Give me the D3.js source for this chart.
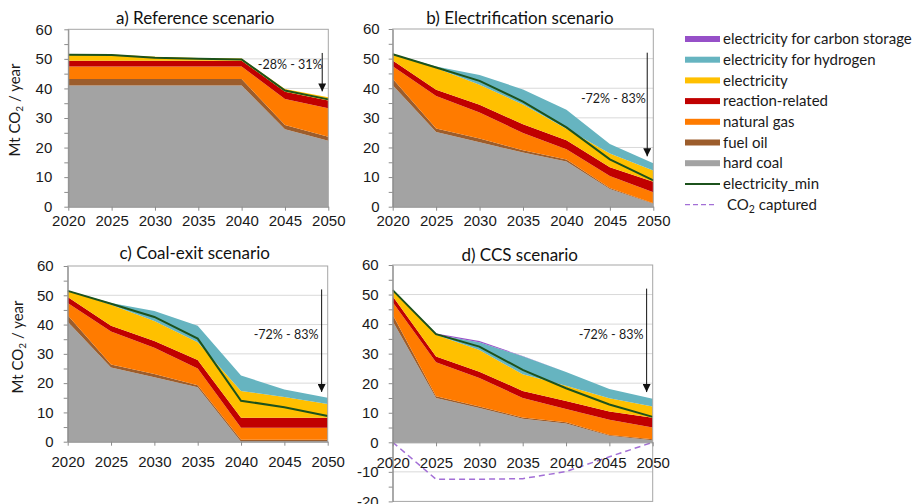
<!DOCTYPE html>
<html>
<head>
<meta charset="utf-8">
<script src="https://cdn.jsdelivr.net/npm/d3@7"></script>
<style>
  html, body { margin: 0; padding: 0; background: #fff; }
  svg { display: block; font-family: Lato, "Noto Sans", "Liberation Sans", sans-serif; }
</style>
</head>
<body>
<svg id="chart" width="912" height="504"></svg>
<script>
// ---- data: Mt CO2 per year ----
const years = [2020, 2025, 2030, 2035, 2040, 2045, 2050];

// a) Reference scenario
const refHardCoal    = [41.0, 41.0, 41.0, 41.0, 41.0, 26.2, 22.3];
const refFuelOil     = [2.2, 2.2, 2.2, 2.2, 2.2, 1.4, 1.4];
const refNaturalGas  = [4.2, 4.2, 4.2, 4.2, 4.2, 8.8, 9.6];
const refReaction    = [2.0, 2.0, 2.0, 2.0, 2.0, 2.5, 2.6];
const refElectricity = [2.2, 2.1, 1.3, 0.9, 0.7, 0.9, 1.1];
const refHydrogen    = [0, 0, 0, 0, 0, 0, 0];
const refStorage     = [0, 0, 0, 0, 0, 0, 0];
const refElecMin     = [51.4, 51.3, 50.4, 50.0, 49.8, 39.3, 36.3];

// b) Electrification scenario
const elHardCoal    = [41.0, 25.2, 21.8, 18.3, 15.3, 6.0, 1.0];
const elFuelOil     = [2.2, 1.2, 1.2, 0.8, 0.6, 0.3, 0.2];
const elNaturalGas  = [4.2, 11.0, 8.8, 5.8, 3.5, 4.1, 3.7];
const elReaction    = [2.0, 2.1, 2.6, 2.9, 3.0, 2.9, 3.5];
const elElectricity = [2.2, 7.3, 6.8, 6.7, 3.9, 4.7, 3.8];
const elHydrogen    = [0, 0.5, 3.3, 5.1, 6.4, 3.2, 2.5];
const elStorage     = [0, 0, 0, 0, 0, 0, 0];
const elElecMin     = [51.5, 47.0, 42.5, 35.5, 26.8, 16.0, 8.9];

// c) Coal-exit scenario
const ceHardCoal    = [41.0, 25.3, 22.0, 18.6, 0, 0, 0];
const ceFuelOil     = [2.2, 1.1, 1.1, 0.7, 0.7, 0.7, 0.7];
const ceNaturalGas  = [4.2, 11.2, 9.0, 5.7, 4.1, 4.1, 4.1];
const ceReaction    = [2.0, 2.0, 2.3, 2.9, 3.4, 3.4, 3.4];
const ceElectricity = [2.2, 7.2, 6.8, 6.1, 9.1, 7.1, 4.7];
const ceHydrogen    = [0, 0.6, 3.4, 5.6, 5.3, 2.5, 2.1];
const ceStorage     = [0, 0, 0, 0, 0, 0, 0];
const ceElecMin     = [51.5, 47.1, 42.6, 35.2, 14.0, 11.8, 8.8];

// d) CCS scenario
const ccsHardCoal    = [41.0, 15.0, 11.6, 8.0, 6.4, 2.2, 0.7];
const ccsFuelOil     = [2.2, 0.6, 0.5, 0.4, 0.4, 0.3, 0.3];
const ccsNaturalGas  = [4.2, 11.5, 9.7, 6.6, 4.5, 5.1, 4.0];
const ccsReaction    = [2.0, 1.9, 2.1, 2.4, 2.7, 2.8, 3.3];
const ccsElectricity = [2.2, 7.4, 7.3, 5.6, 5.1, 4.5, 3.8];
const ccsHydrogen    = [0, 0.1, 2.7, 6.1, 4.7, 3.1, 2.6];
const ccsStorage     = [0, 0.3, 0.4, 0.1, 0, 0, 0];
const ccsElecMin     = [51.5, 36.6, 32.4, 24.5, 18.3, 12.8, 8.6];
const ccsCaptured    = [0, -12.5, -12.5, -12.3, -9.9, -4.9, 0];

// reduction range noted on each panel (text, arrow top, arrow tip in Mt)
const notes      = ["-28% - 31%", "-72% - 83%", "-72% - 83%", "-72% - 83%"];
const arrowTops  = [52, 52, 52, 52];
const arrowTips  = [39, 17, 17, 17];

// ---- series definitions (stack order bottom to top) ----
const keys = ["hardCoal", "fuelOil", "naturalGas", "reaction", "electricity", "hydrogen", "storage"];
const seriesLabels = ["hard coal", "fuel oil", "natural gas", "reaction-related", "electricity",
                      "electricity for hydrogen", "electricity for carbon storage"];
const seriesColors = ["#a3a3a3", "#9c5d2c", "#ff7b00", "#c00000", "#ffc000", "#66b4c0", "#9650c8"];
const minColor = "#1c521c";
const capturedColor = "#a36fd6";

const svg = d3.select("#chart");

const panels = [
  { title: "a) Reference scenario",
    cols: [refHardCoal, refFuelOil, refNaturalGas, refReaction, refElectricity, refHydrogen, refStorage],
    min: refElecMin, captured: null,
    box: { left: 68.3, right: 328.3, top: 29.3, bottom: 206.7 }, yDomain: [0, 60],
    yTitle: { x: 19.5, y: 110 }, titleY: 18, xPad: 5, yPad: 12, notePos: [2045.6, 47.9] },
  { title: "b) Electrification scenario",
    cols: [elHardCoal, elFuelOil, elNaturalGas, elReaction, elElectricity, elHydrogen, elStorage],
    min: elElecMin, captured: null,
    box: { left: 392.7, right: 653.3, top: 29.0, bottom: 206.7 }, yDomain: [0, 60],
    yTitle: null, titleY: 18, xPad: 5, yPad: 9, notePos: [2045.4, 36.4] },
  { title: "c) Coal-exit scenario",
    cols: [ceHardCoal, ceFuelOil, ceNaturalGas, ceReaction, ceElectricity, ceHydrogen, ceStorage],
    min: ceElecMin, captured: null,
    box: { left: 67.7, right: 327.7, top: 266, bottom: 441.7 }, yDomain: [0, 60],
    yTitle: { x: 22.5, y: 347 }, titleY: 253, xPad: 11, yPad: 10, notePos: [2045.2, 36.4] },
  { title: "d) CCS scenario",
    cols: [ccsHardCoal, ccsFuelOil, ccsNaturalGas, ccsReaction, ccsElectricity, ccsHydrogen, ccsStorage],
    min: ccsElecMin, captured: ccsCaptured,
    box: { left: 392.7, right: 652.7, top: 265, bottom: 501.4 }, yDomain: [-20, 60],
    yTitle: null, titleY: 255, xPad: 11, yPad: 10, notePos: [2045.2, 36.3] }
];

// arrowhead marker
svg.append("defs").append("marker")
  .attr("id", "arrowhead")
  .attr("viewBox", "0 0 10 10")
  .attr("refX", 10).attr("refY", 5)
  .attr("markerUnits", "userSpaceOnUse")
  .attr("markerWidth", 8).attr("markerHeight", 8)
  .attr("orient", "auto")
  .append("path").attr("d", "M0,0 L10,5 L0,10 Z").attr("fill", "#111");

panels.forEach((p, pi) => {
  const b = p.box;
  const x = d3.scaleLinear().domain([2020, 2050]).range([b.left, b.right]);
  const y = d3.scaleLinear().domain(p.yDomain).range([b.bottom, b.top]);
  const g = svg.append("g");

  const rows = years.map((yr, i) => {
    const r = { year: yr };
    keys.forEach((k, j) => { r[k] = p.cols[j][i]; });
    return r;
  });

  // horizontal gridlines
  const gridVals = d3.range(p.yDomain[0], p.yDomain[1] + 1, 10)
    .filter(v => v !== 0 && v !== p.yDomain[0] && v !== p.yDomain[1]);
  g.append("g").selectAll("line").data(gridVals).join("line")
    .attr("x1", b.left).attr("x2", b.right)
    .attr("y1", d => y(d)).attr("y2", d => y(d))
    .attr("stroke", "#d9d9d9").attr("stroke-width", 1);

  // stacked areas
  const stacked = d3.stack().keys(keys)(rows);
  const area = d3.area()
    .x(d => x(d.data.year))
    .y0(d => y(d[0]))
    .y1(d => y(d[1]));
  g.append("g").selectAll("path").data(stacked).join("path")
    .attr("d", area)
    .attr("fill", (d, i) => seriesColors[i]);

  // electricity_min line
  const line = d3.line().x((d, i) => x(years[i])).y(d => y(d));
  g.append("path").datum(p.min)
    .attr("d", line)
    .attr("fill", "none").attr("stroke", minColor).attr("stroke-width", 2);

  // CO2 captured (negative)
  if (p.captured) {
    g.append("path").datum(p.captured)
      .attr("d", line)
      .attr("fill", "none").attr("stroke", capturedColor)
      .attr("stroke-width", 1.5).attr("stroke-dasharray", "6,4");
  }

  // plot frame
  g.append("rect")
    .attr("x", b.left).attr("y", b.top)
    .attr("width", b.right - b.left).attr("height", b.bottom - b.top)
    .attr("fill", "none").attr("stroke", "#a6a6a6").attr("stroke-width", 1);

  // y axis
  const yAxis = d3.axisLeft(y)
    .tickValues(d3.range(p.yDomain[0], p.yDomain[1] + 1, 5))
    .tickFormat(d => (d % 10 === 0 ? d : ""))
    .tickSize(4).tickSizeOuter(0).tickPadding(p.yPad);
  const ya = g.append("g").attr("transform", `translate(${b.left},0)`).call(yAxis);
  ya.select(".domain").attr("stroke", "#8c8c8c");
  ya.selectAll(".tick line").attr("stroke", "#8c8c8c");
  ya.selectAll("text").attr("font-size", 15).attr("fill", "#1a1a1a");

  // x axis at zero
  const xAxis = d3.axisBottom(x)
    .tickValues(years).tickFormat(d3.format("d"))
    .tickSize(4).tickSizeOuter(0).tickPadding(p.xPad);
  const xa = g.append("g").attr("transform", `translate(0,${y(0)})`).call(xAxis);
  xa.select(".domain").attr("stroke", "#8c8c8c");
  xa.selectAll(".tick line").attr("stroke", "#8c8c8c");
  xa.selectAll("text").attr("font-size", 15).attr("fill", "#1a1a1a");

  // panel title
  svg.append("text")
    .attr("x", (b.left + b.right) / 2 - 3).attr("y", p.titleY)
    .attr("dy", "0.35em").attr("text-anchor", "middle")
    .attr("font-size", 17).attr("fill", "#111")
    .text(p.title);

  // y axis title
  if (p.yTitle) {
    const t = svg.append("text")
      .attr("transform", `translate(${p.yTitle.x},${p.yTitle.y}) rotate(-90)`)
      .attr("text-anchor", "middle").attr("font-size", 15).attr("fill", "#1a1a1a");
    t.append("tspan").text("Mt CO");
    t.append("tspan").text("2").attr("font-size", 10).attr("dy", 3);
    t.append("tspan").text(" / year").attr("dy", -3);
  }

  // reduction arrow and note
  const ax = x(2049.3);
  g.append("line")
    .attr("x1", ax).attr("x2", ax)
    .attr("y1", y(arrowTops[pi])).attr("y2", y(arrowTips[pi]))
    .attr("stroke", "#111").attr("stroke-width", 1)
    .attr("marker-end", "url(#arrowhead)");
  g.append("text")
    .attr("x", x(p.notePos[0])).attr("y", y(p.notePos[1]))
    .attr("dy", "0.35em").attr("text-anchor", "middle")
    .attr("font-size", 12.5).attr("fill", "#1a1a1a")
    .text(notes[pi]);
});

// ---- legend ----
const legendItems = [
  { label: seriesLabels[6], color: seriesColors[6], kind: "box" },
  { label: seriesLabels[5], color: seriesColors[5], kind: "box" },
  { label: seriesLabels[4], color: seriesColors[4], kind: "box" },
  { label: seriesLabels[3], color: seriesColors[3], kind: "box" },
  { label: seriesLabels[2], color: seriesColors[2], kind: "box" },
  { label: seriesLabels[1], color: seriesColors[1], kind: "box" },
  { label: seriesLabels[0], color: seriesColors[0], kind: "box" },
  { label: "electricity_min", color: minColor, kind: "line" },
  { label: "CO2 captured", color: capturedColor, kind: "dash" }
];
const legend = svg.append("g").attr("transform", "translate(685,39)");
const li = legend.selectAll("g").data(legendItems).join("g")
  .attr("transform", (d, i) => `translate(0,${i * 20.7})`);
li.filter(d => d.kind === "box").append("rect")
  .attr("x", 0).attr("y", -3).attr("width", 35).attr("height", 6)
  .attr("fill", d => d.color);
li.filter(d => d.kind === "line").append("line")
  .attr("x1", 0).attr("x2", 35).attr("y1", 0).attr("y2", 0)
  .attr("stroke", d => d.color).attr("stroke-width", 2);
li.filter(d => d.kind === "dash").append("line")
  .attr("x1", 0).attr("x2", 29).attr("y1", 0).attr("y2", 0)
  .attr("stroke", d => d.color).attr("stroke-width", 1.3).attr("stroke-dasharray", "5,3");
li.each(function (d) {
  const t = d3.select(this).append("text")
    .attr("x", d.kind === "dash" ? 42 : 38).attr("y", 0).attr("dy", "0.35em")
    .attr("font-size", 15).attr("fill", "#1a1a1a");
  if (d.label === "CO2 captured") {
    t.append("tspan").text("CO");
    t.append("tspan").text("2").attr("font-size", 10.5).attr("dy", 3);
    t.append("tspan").text(" captured").attr("dy", -3);
  } else {
    t.text(d.label);
  }
});
</script>
</body>
</html>
